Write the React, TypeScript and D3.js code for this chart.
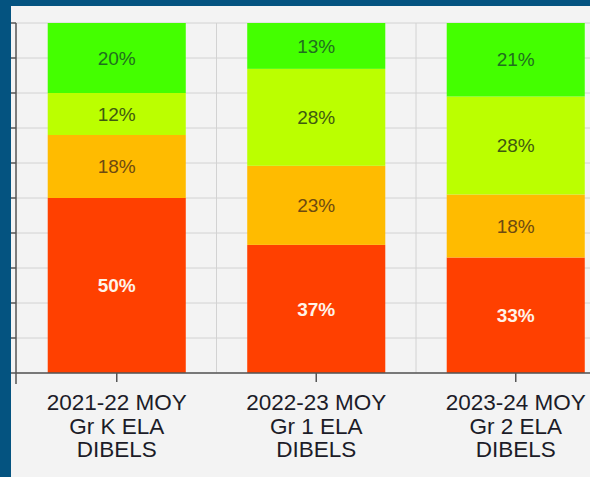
import React from "react";
import * as d3 from "d3";

const categories = ["2021-22 MOY|Gr K ELA|DIBELS", "2022-23 MOY|Gr 1 ELA|DIBELS", "2023-24 MOY|Gr 2 ELA|DIBELS"];
const redValues = [50, 36.6, 33];
const orangeValues = [18, 22.6, 18];
const yellowValues = [12, 27.7, 28];
const greenValues = [20, 13.1, 21];
const seriesKeys = ["red", "orange", "yellow", "green"];
const seriesColors = ["#ff4000", "#ffbb00", "#bbff00", "#44ff00"];
const labelColors = ["#fff3e8", "#6e4a10", "#3f5a10", "#1f6f1f"];
const yTicks = [0, 10, 20, 30, 40, 50, 60, 70, 80, 90, 100];

const W = 590;
const H = 477;

export default function App() {
  const rows = categories.map((c, i) => ({
    cat: c,
    red: redValues[i],
    orange: orangeValues[i],
    yellow: yellowValues[i],
    green: greenValues[i],
  }));
  const stack = d3.stack<any>().keys(seriesKeys);
  const stacked = stack(rows);

  const x = d3
    .scaleBand<string>()
    .domain(categories)
    .range([17, 17 + 3 * 199.5])
    .paddingInner(0.308)
    .paddingOuter(0.154);
  const y = d3.scaleLinear().domain([0, 100]).range([373, 23]);
  const step = x.step();
  const left = 16;
  const boundaries = categories.map((c) => (x(c) as number) - x.step() * 0.154 + step);

  return (
    <>
      <style>{`body{margin:0;}`}</style>
      <svg width={W} height={H} style={{ display: "block" }} fontFamily="'Liberation Sans', Arial, sans-serif">
        <rect x={0} y={0} width={W} height={H} fill="#045380" />
        <rect x={11} y={6} width={W - 11} height={H - 6} fill="#f3f3f3" />
        {/* horizontal gridlines */}
        {yTicks.map((t) => (
          <line key={"g" + t} x1={left} x2={W} y1={y(t)} y2={y(t)} stroke="#d2d2d2" strokeWidth={1} />
        ))}
        {/* vertical gridlines */}
        {boundaries.map((b, i) => (
          <line key={"v" + i} x1={b} x2={b} y1={y(100)} y2={y(0)} stroke="#d2d2d2" strokeWidth={1} />
        ))}
        {/* bars */}
        {stacked.map((s, si) =>
          s.map((d, i) => (
            <rect
              key={seriesKeys[si] + i}
              x={x(categories[i])}
              width={x.bandwidth()}
              y={y(d[1])}
              height={y(d[0]) - y(d[1])}
              fill={seriesColors[si]}
            />
          ))
        )}
        {/* labels */}
        {stacked.map((s, si) =>
          s.map((d, i) => (
            <text
              key={"l" + seriesKeys[si] + i}
              x={(x(categories[i]) as number) + x.bandwidth() / 2}
              y={(y(d[0]) + y(d[1])) / 2}
              dy="0.35em"
              textAnchor="middle"
              fontSize={19}
              fontWeight={si === 0 ? "bold" : "normal"}
              fill={labelColors[si]}
            >
              {Math.round(d[1] - d[0]) + "%"}
            </text>
          ))
        )}
        {/* y axis */}
        <line x1={left} x2={left} y1={y(100)} y2={384} stroke="#555" strokeWidth={1.5} />
        {yTicks.map((t) => (
          <line key={"yt" + t} x1={11} x2={left} y1={y(t)} y2={y(t)} stroke="#555" strokeWidth={1.5} />
        ))}
        {/* x axis */}
        <line x1={left} x2={W} y1={y(0)} y2={y(0)} stroke="#555" strokeWidth={1.5} />
        {categories.map((c) => {
          const cx = (x(c) as number) + x.bandwidth() / 2;
          return (
            <g key={"xt" + c}>
              <line x1={cx} x2={cx} y1={y(0)} y2={382} stroke="#555" strokeWidth={1.5} />
              <text x={cx} y={410} textAnchor="middle" fontSize={22.5} fill="#1c1c28">
                {c.split("|").map((ln, li) => (
                  <tspan key={li} x={cx} dy={li === 0 ? 0 : 23.5}>
                    {ln}
                  </tspan>
                ))}
              </text>
            </g>
          );
        })}
      </svg>
    </>
  );
}
